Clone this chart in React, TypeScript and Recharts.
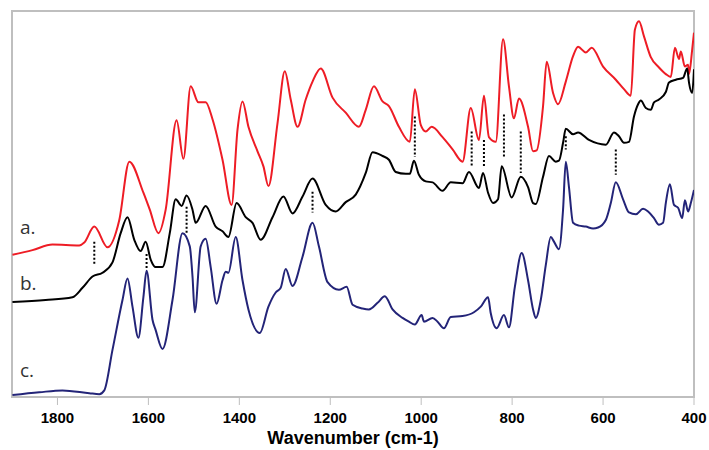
import React from 'react';
import { LineChart, Line, XAxis, YAxis, ReferenceLine, ReferenceArea } from 'recharts';

// wavenumber (cm-1), absorbance (offset, arbitrary units)
const SPECTRUM_A: [number, number][] = [
  [1899, 1.51], [1855, 1.56], [1811, 1.62], [1752, 1.61], [1741, 1.64], [1719, 1.81], [1690, 1.59],
  [1664, 1.88], [1642, 2.5], [1611, 2.17], [1597, 1.99], [1578, 1.74], [1562, 1.99], [1538, 2.94],
  [1523, 2.53], [1507, 3.3], [1490, 3.13], [1474, 3.13], [1459, 2.95], [1437, 2.52], [1417, 2.04],
  [1404, 2.84], [1393, 3.14], [1380, 2.87], [1360, 2.61], [1347, 2.45], [1336, 2.24], [1316, 2.91],
  [1300, 3.46], [1287, 3.16], [1272, 2.87], [1254, 3.16], [1239, 3.35], [1221, 3.49], [1195, 3.18],
  [1166, 3.02], [1137, 2.87], [1122, 3.05], [1104, 3.3], [1085, 3.14], [1071, 3.09], [1049, 2.87],
  [1025, 2.71], [1014, 3.27], [1001, 2.89], [990, 2.82], [977, 2.87], [953, 2.76], [931, 2.63],
  [909, 2.5], [891, 3.07], [873, 2.73], [862, 3.2], [851, 2.76], [836, 2.71], [820, 3.8], [807, 3.3],
  [796, 2.96], [785, 3.17], [765, 2.87], [754, 2.61], [746, 2.62], [732, 3.09], [724, 3.56],
  [710, 3.23], [699, 3.11], [682, 3.35], [666, 3.62], [655, 3.72], [638, 3.66], [625, 3.71],
  [600, 3.51], [572, 3.37], [554, 3.27], [539, 3.2], [530, 3.9], [521, 3.99], [510, 3.83],
  [495, 3.61], [477, 3.5], [462, 3.43], [451, 3.4], [442, 3.71], [433, 3.59], [429, 3.67],
  [420, 3.51], [413, 3.53], [411, 3.43], [404, 3.69], [400, 3.87],
];

const SPECTRUM_B: [number, number][] = [
  [1899, 1.01], [1826, 1.03], [1767, 1.06], [1745, 1.16], [1723, 1.28], [1701, 1.32], [1679, 1.43],
  [1661, 1.74], [1646, 1.91], [1631, 1.67], [1617, 1.55], [1606, 1.65], [1595, 1.46], [1584, 1.38],
  [1569, 1.38], [1553, 1.74], [1540, 2.1], [1527, 2.03], [1516, 2.14], [1503, 1.99], [1496, 1.85],
  [1474, 2.03], [1452, 1.81], [1437, 1.76], [1424, 1.7], [1406, 2.06], [1386, 1.91], [1371, 1.85],
  [1353, 1.67], [1327, 1.91], [1303, 2.13], [1283, 1.95], [1261, 2.13], [1239, 2.32], [1210, 2.04],
  [1188, 1.97], [1166, 2.07], [1144, 2.15], [1122, 2.38], [1107, 2.6], [1085, 2.56], [1071, 2.52],
  [1056, 2.39], [1034, 2.37], [1025, 2.37], [1016, 2.51], [1005, 2.36], [990, 2.29], [975, 2.28],
  [953, 2.19], [935, 2.28], [909, 2.27], [895, 2.39], [873, 2.22], [864, 2.38], [853, 2.17],
  [842, 2.06], [831, 2.1], [823, 2.45], [801, 2.12], [781, 2.34], [765, 2.23], [754, 2.06],
  [748, 2.05], [732, 2.34], [719, 2.56], [704, 2.5], [697, 2.51], [688, 2.7], [682, 2.85],
  [666, 2.79], [655, 2.81], [631, 2.73], [594, 2.68], [576, 2.81], [565, 2.77], [554, 2.7],
  [543, 2.71], [532, 2.98], [523, 3.11], [517, 3.15], [506, 3.07], [495, 3.05], [488, 3.13],
  [477, 3.16], [462, 3.24], [455, 3.34], [440, 3.37], [424, 3.39], [415, 3.49], [411, 3.34],
  [404, 3.23], [400, 3.48],
];

const SPECTRUM_C: [number, number][] = [
  [1899, 0.02], [1840, 0.05], [1789, 0.07], [1730, 0.04], [1708, 0.03], [1697, 0.07], [1679, 0.5],
  [1657, 1.03], [1646, 1.26], [1635, 0.96], [1622, 0.63], [1611, 1.06], [1604, 1.34], [1591, 0.82],
  [1584, 0.71], [1569, 0.51], [1547, 1.03], [1525, 1.74], [1509, 1.6], [1503, 1.28], [1498, 0.9],
  [1485, 1.6], [1474, 1.68], [1463, 1.38], [1450, 0.99], [1437, 1.24], [1430, 1.33], [1424, 1.32],
  [1408, 1.7], [1393, 1.24], [1380, 0.93], [1355, 0.68], [1336, 0.96], [1320, 1.11], [1309, 1.16],
  [1298, 1.36], [1283, 1.18], [1261, 1.49], [1239, 1.85], [1225, 1.6], [1206, 1.22], [1181, 1.14],
  [1164, 1.17], [1151, 0.98], [1129, 0.94], [1115, 0.93], [1096, 1.0], [1080, 1.07], [1063, 0.93],
  [1041, 0.84], [1027, 0.8], [1014, 0.77], [999, 0.87], [994, 0.8], [975, 0.84], [964, 0.8],
  [950, 0.73], [935, 0.85], [909, 0.86], [884, 0.9], [869, 0.96], [853, 1.06], [847, 0.89],
  [834, 0.73], [818, 0.87], [807, 0.74], [794, 1.17], [779, 1.53], [765, 1.24], [754, 0.93],
  [748, 0.84], [737, 1.03], [726, 1.4], [715, 1.7], [708, 1.65], [697, 1.57], [688, 1.99],
  [682, 2.5], [675, 2.23], [666, 1.85], [653, 1.82], [638, 1.81], [622, 1.79], [611, 1.8],
  [594, 1.88], [583, 2.06], [572, 2.28], [556, 2.1], [543, 1.96], [528, 1.94], [512, 2.0],
  [501, 1.97], [488, 1.9], [477, 1.83], [468, 1.85], [462, 2.06], [453, 2.26], [444, 2.04],
  [435, 2.01], [426, 1.9], [420, 2.09], [413, 1.97], [407, 2.06], [400, 2.2],
];

// dotted markers linking matching peaks: wavenumber, top, bottom
const PEAK_MARKERS: [number, number, number][] = [
  [1719, 1.65, 1.4], [1604, 1.52, 1.37], [1516, 2.02, 1.74], [1239, 2.18, 1.96],
  [1014, 2.98, 2.55], [889, 2.82, 2.45], [862, 2.73, 2.45], [818, 3.0, 2.54],
  [781, 2.82, 2.38], [682, 2.77, 2.63], [572, 2.63, 2.36],
];

const X_TICKS = [1800, 1600, 1400, 1200, 1000, 800, 600, 400];
const Y_TICKS = [0, 1, 2, 3, 4];
const SERIES = [
  { name: 'a.', data: SPECTRUM_A, color: '#ee1c25' },
  { name: 'b.', data: SPECTRUM_B, color: '#000000' },
  { name: 'c.', data: SPECTRUM_C, color: '#232478' },
];

const AXIS_GRAY = '#bfbfbf';
const FONT = '"Liberation Sans", Arial, sans-serif';

export default function App() {
  return (
    <div style={{ position: 'relative', width: 709, height: 450, background: '#fff' }}>
      <style>{'body{margin:0;}'}</style>
      <LineChart width={709} height={450} margin={{ top: 11, right: 15, left: 12, bottom: 0 }}>
        <XAxis
          dataKey="w"
          type="number"
          domain={[400, 1900]}
          reversed
          ticks={X_TICKS}
          allowDataOverflow
          height={53}
          tickSize={8}
          tickMargin={7}
          axisLine={{ stroke: AXIS_GRAY, strokeWidth: 2 }}
          tickLine={{ stroke: AXIS_GRAY }}
          tick={{ fontSize: 15, fontWeight: 'bold', fill: '#000', fontFamily: FONT }}
          label={{
            value: 'Wavenumber (cm-1)',
            position: 'insideBottom',
            offset: 6,
            style: { fontSize: 18, fontWeight: 'bold', fill: '#000', fontFamily: FONT },
          }}
        />
        <YAxis
          type="number"
          domain={[0, 4.1]}
          ticks={Y_TICKS}
          width={0}
          tickSize={6}
          axisLine={{ stroke: AXIS_GRAY, strokeWidth: 2 }}
          tickLine={{ stroke: AXIS_GRAY }}
          tick={() => <g />}
        />
        <ReferenceArea
          x1={1900}
          x2={400}
          y1={0}
          y2={4.1}
          fill="#fff"
          fillOpacity={0}
          stroke={AXIS_GRAY}
          strokeWidth={2}
        />
        {SERIES.map((s) => (
          <Line
            key={s.name}
            data={s.data.map(([w, v]) => ({ w, v }))}
            dataKey="v"
            type="monotone"
            stroke={s.color}
            strokeWidth={2}
            dot={false}
            isAnimationActive={false}
          />
        ))}
        {PEAK_MARKERS.map(([w, top, bottom]) => (
          <ReferenceLine
            key={w}
            segment={[{ x: w, y: top }, { x: w, y: bottom }]}
            stroke="#000"
            strokeWidth={2}
            strokeDasharray="2 2"
          />
        ))}
      </LineChart>
      <svg width={709} height={450} style={{ position: 'absolute', left: 0, top: 0, pointerEvents: 'none' }}>
        {SERIES.map((s, i) => (
          <text
            key={s.name}
            x={20}
            y={[234, 290, 377][i]}
            fontSize={19}
            fill="#333"
            fontFamily='"Open Sans", sans-serif'
          >
            {s.name}
          </text>
        ))}
      </svg>
    </div>
  );
}
